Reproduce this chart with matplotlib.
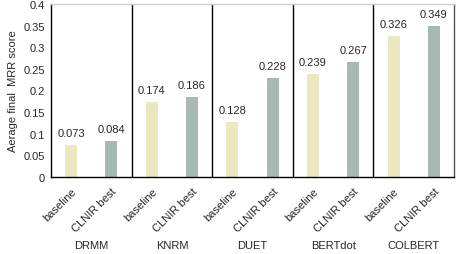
import matplotlib
matplotlib.use("Agg")
import matplotlib.pyplot as plt

models = ["DRMM", "KNRM", "DUET", "BERTdot", "COLBERT"]
baseline = [0.073, 0.174, 0.128, 0.239, 0.326]
clnir_best = [0.084, 0.186, 0.228, 0.267, 0.349]
bar_labels = ["baseline", "CLNIR best"]
yticks = [0, 0.05, 0.1, 0.15, 0.2, 0.25, 0.3, 0.35, 0.4]
ytick_labels = ["0", "0.05", "0.1", "0.15", "0.2", "0.25", "0.3", "0.35", "0.4"]

plt.rcParams['font.family'] = ['Liberation Sans', 'DejaVu Sans']
fig = plt.figure(figsize=(4.57, 2.55), dpi=100)
ax = fig.add_axes([51/457, 1 - 178/255, (454 - 51)/457, (178 - 5)/255])

fs = 8
tc = "#262626"
c_base = "#EAE8BF"
c_best = "#A6BAB2"
w = 0.3
xb = [2 * i for i in range(len(models))]
xc = [2 * i + 1 for i in range(len(models))]
ax.bar(xb, baseline, width=w, color=c_base)
ax.bar(xc, clnir_best, width=w, color=c_best)
for x, v in zip(xb + xc, baseline + clnir_best):
    ax.annotate(f"{v:.3f}", (x, v), xytext=(0, 5), textcoords="offset points",
                ha="center", va="bottom", fontsize=fs, color=tc)

for i in range(1, len(models)):
    ax.axvline(2 * i - 0.5, color="black", lw=1.0)

ax.set_xlim(-0.5, 2 * len(models) - 0.5)
ax.set_ylim(0, 0.4)
ax.set_yticks(yticks)
ax.set_yticklabels(ytick_labels, fontsize=fs, color=tc)
ax.tick_params(axis="y", length=0, pad=4.5)
ax.set_xticks(xb + xc)
ax.set_xticklabels([bar_labels[0]] * len(models) + [bar_labels[1]] * len(models),
                   rotation=45, ha="right", va="top", rotation_mode="anchor",
                   fontsize=fs, color=tc)
ax.tick_params(axis="x", length=0, pad=6)
for i, m in enumerate(models):
    ax.text(2 * i + 0.5, -0.395, m, ha="center", va="center", fontsize=fs, color=tc,
            transform=ax.get_xaxis_transform())

ax.set_ylabel("Aerage final  MRR score", fontsize=fs, labelpad=4, color=tc)
ax.spines["left"].set_color("black")
ax.spines["bottom"].set_color("black")
ax.spines["top"].set_color("#cccccc")
ax.spines["right"].set_color("#555555")
for s in ax.spines.values():
    s.set_linewidth(1.0)

fig.savefig("out.png", dpi=100)
